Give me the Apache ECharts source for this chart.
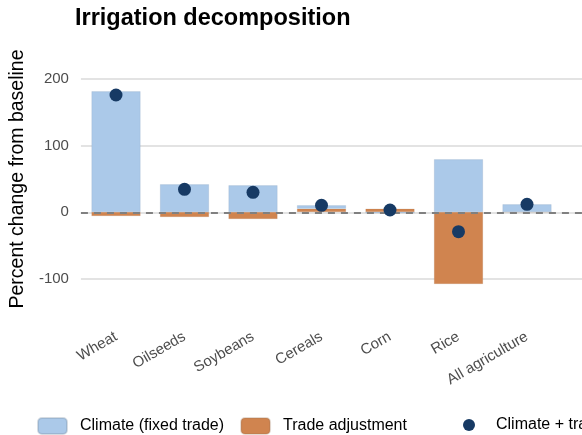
<!DOCTYPE html>
<html>
<head>
<meta charset="utf-8">
<script src="https://cdn.jsdelivr.net/npm/echarts@6/dist/echarts.min.js"></script>
<style>
  html, body { margin: 0; padding: 0; background: #fff; }
  #chart { width: 582px; height: 435px; }
</style>
</head>
<body>
<div id="chart"></div>
<script>
const categories = ['Wheat', 'Oilseeds', 'Soybeans', 'Cereals', 'Corn', 'Rice', 'All agriculture'];
const climateFixed = [181, 41.5, 40, 5, -2, 79, 11.5];
const tradeAdjust = [-6, -7.5, -10.5, 5, 5, -108, 0];
const climateTrade = [175.5, 34, 29.5, 10, 3, -29.5, 11.5];
const yTicks = [-100, 0, 100, 200];

const font = '"Liberation Sans", Arial, Helvetica, sans-serif';
const chart = echarts.init(document.getElementById('chart'));

const option = {
  backgroundColor: '#fff',
  animation: false,
  title: {
    text: 'Irrigation decomposition',
    left: 70,
    top: 2,
    textStyle: { fontFamily: font, fontSize: 23.5, fontWeight: 'bold', color: '#000' }
  },
  legend: [
    {
      data: ['Climate (fixed trade)', 'Trade adjustment'],
      left: 37,
      top: 417,
      padding: 0,
      itemWidth: 29,
      itemHeight: 16,
      itemGap: 16,
      selectedMode: false,
      textStyle: { fontFamily: font, fontSize: 16, color: '#000', padding: [0, 0, 0, 8] }
    },
    {
      data: ['Climate + trade adjustment'],
      left: 463,
      top: 417,
      padding: 0,
      icon: 'circle',
      itemWidth: 12,
      itemHeight: 12,
      selectedMode: false,
      textStyle: { fontFamily: font, fontSize: 16, color: '#000', padding: [0, 0, 0, 16] }
    }
  ],
  grid: [
    // background panel: gridlines and y labels
    { left: 75, right: 0, top: 79, bottom: 156 },
    // bars and points
    { left: 81.75, right: 20.75, top: 72, bottom: 136.33 }
  ],
  xAxis: [
    { gridIndex: 0, type: 'value', min: 0, max: 1, show: false },
    {
      gridIndex: 1,
      type: 'category',
      data: categories,
      axisLine: { show: false },
      axisTick: { show: false },
      axisLabel: {
        rotate: 30,
        margin: 37,
        interval: 0,
        fontFamily: font,
        fontSize: 15,
        color: '#4d4d4d'
      }
    }
  ],
  yAxis: [
    {
      gridIndex: 0,
      type: 'value',
      min: yTicks[0],
      max: yTicks[yTicks.length - 1],
      interval: 100,
      name: 'Percent change from baseline',
      nameLocation: 'middle',
      nameGap: 52,
      nameTextStyle: { fontFamily: font, fontSize: 19.5, color: '#000' },
      axisLine: { show: false },
      axisTick: { show: false },
      axisLabel: { margin: 12, fontFamily: font, fontSize: 15, color: '#4d4d4d' },
      splitLine: { lineStyle: { color: '#e3e3e3', width: 2 } }
    },
    { gridIndex: 1, type: 'value', min: -130, max: 210, show: false }
  ],
  series: [
    {
      type: 'line',
      xAxisIndex: 0,
      yAxisIndex: 0,
      data: [],
      silent: true,
      markLine: {
        silent: true,
        symbol: 'none',
        label: { show: false },
        lineStyle: { color: '#808080', width: 2, type: [7, 6] },
        data: [{ yAxis: 0 }]
      }
    },
    {
      name: 'Trade adjustment',
      type: 'bar',
      xAxisIndex: 1,
      yAxisIndex: 1,
      stack: 'total',
      barWidth: 49,
      data: tradeAdjust,
      itemStyle: { color: '#d0844f', borderColor: 'rgba(150,110,80,0.25)', borderWidth: 0.5 }
    },
    {
      name: 'Climate (fixed trade)',
      type: 'bar',
      xAxisIndex: 1,
      yAxisIndex: 1,
      stack: 'total',
      barWidth: 49,
      data: climateFixed,
      itemStyle: { color: '#abc9e9', borderColor: 'rgba(120,140,160,0.3)', borderWidth: 0.5 }
    },
    {
      name: 'Climate + trade adjustment',
      type: 'scatter',
      xAxisIndex: 1,
      yAxisIndex: 1,
      symbolSize: 13,
      data: climateTrade,
      itemStyle: { color: '#173a64', opacity: 1 },
      z: 5
    }
  ]
};

chart.setOption(option);
</script>
</body>
</html>
